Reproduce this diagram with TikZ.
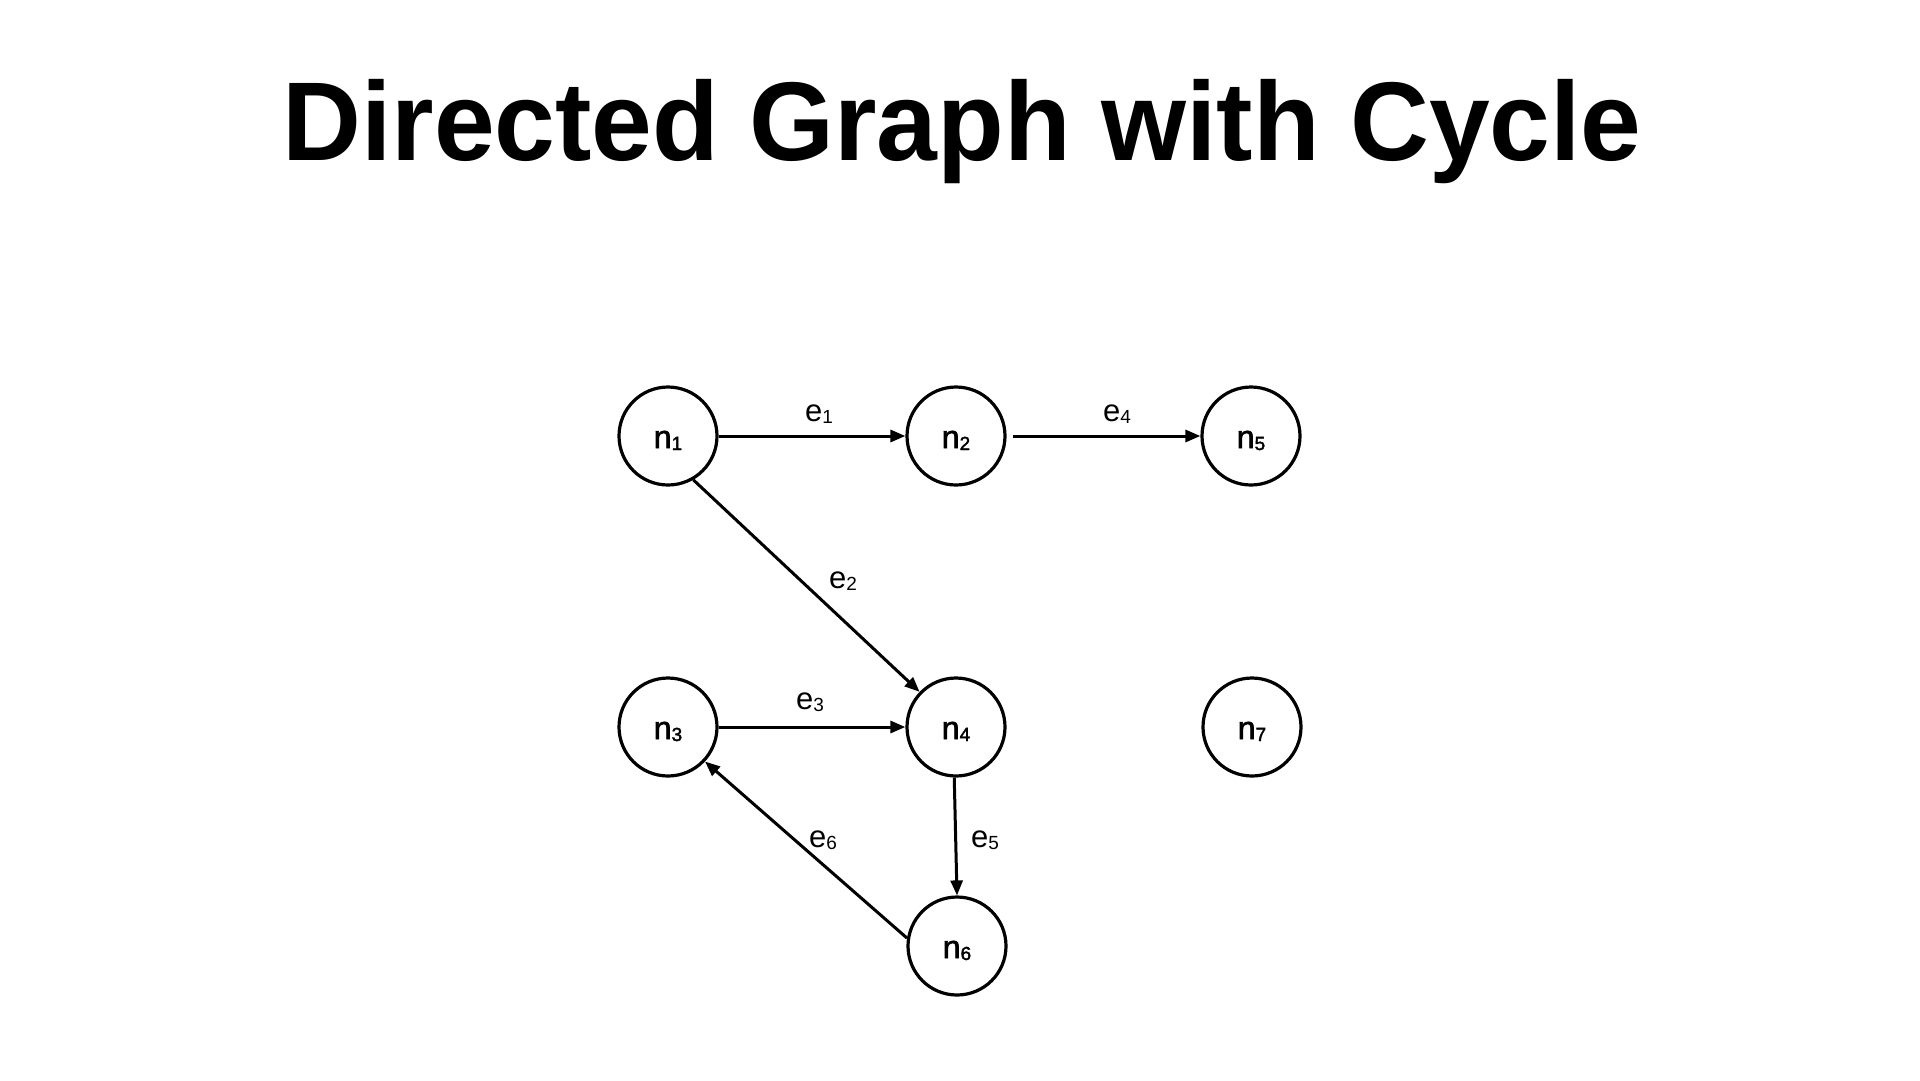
\documentclass[tikz,border=0pt]{standalone}
\usepackage{fontspec}
\setmainfont{Liberation Sans}
\newfontfamily\nfont{Liberation Sans}[FakeBold=2]
\usetikzlibrary{arrows.meta}
\newcommand\lbl[2]{#1{\fontsize{19}{19}\selectfont\raisebox{-2pt}{#2}}}
\begin{document}
\begin{tikzpicture}[x=1pt,y=-1pt,
  vtx/.style={circle,draw,line width=3.2pt,minimum size=98pt,inner sep=0pt,
    font=\nfont\fontsize{32}{32}\selectfont,text height=24pt,text depth=0pt},
  edge/.style={line width=3pt,-{Triangle[length=15pt,width=12pt]}},
  elbl/.style={anchor=base,font=\fontsize{31}{31}\selectfont,inner sep=0pt}]
\useasboundingbox (0,0) rectangle (1920,1080);
\node[anchor=base,inner sep=0pt,font=\bfseries\fontsize{112}{112}\selectfont] (title) at (962,160) {\scalebox{0.975}[1]{Directed Graph with Cycle}};
\node[vtx] (n1) at (668,436) {\lbl{n}{1}};
\node[vtx] (n2) at (956,436) {\lbl{n}{2}};
\node[vtx] (n5) at (1251,436) {\lbl{n}{5}};
\node[vtx] (n3) at (668,727) {\lbl{n}{3}};
\node[vtx] (n4) at (956,727) {\lbl{n}{4}};
\node[vtx] (n7) at (1252,727) {\lbl{n}{7}};
\node[vtx] (n6) at (957,946) {\lbl{n}{6}};
\draw[edge] (n1) -- (n2);
\draw[edge,shorten <=6pt] (n2) -- (n5);
\draw[edge] (n1.-60) -- (n4.136);
\draw[edge] (n3) -- (n4);
\draw[edge] (n4.-92) -- (n6.90);
\draw[edge] (n6.171) -- (n3.-43);
\node[elbl] (l1) at (819,421) {\lbl{e}{1}};
\node[elbl] (l2) at (843,588) {\lbl{e}{2}};
\node[elbl] (l3) at (810,709) {\lbl{e}{3}};
\node[elbl] (l4) at (1117,421) {\lbl{e}{4}};
\node[elbl] (l5) at (985,847) {\lbl{e}{5}};
\node[elbl] (l6) at (823,847) {\lbl{e}{6}};
\end{tikzpicture}
\end{document}
